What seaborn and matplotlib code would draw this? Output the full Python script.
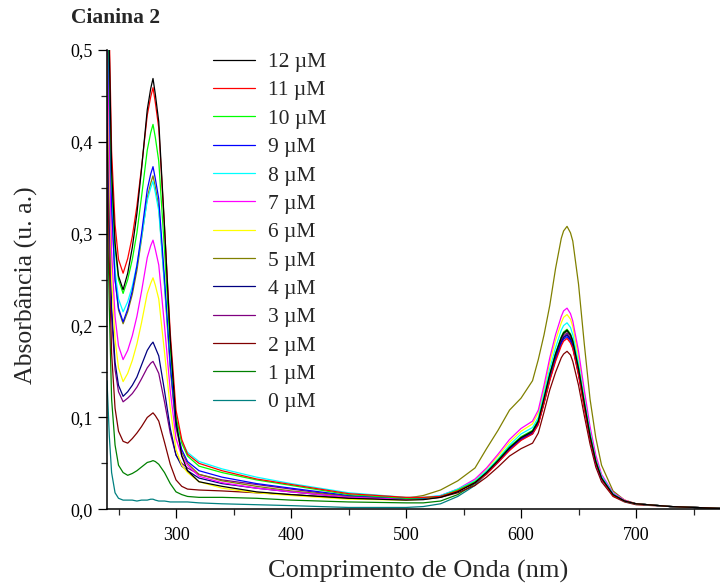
import matplotlib
matplotlib.use("Agg")
import matplotlib.pyplot as plt
import seaborn as sns
import pandas as pd
from matplotlib.ticker import MultipleLocator, FuncFormatter
from matplotlib.lines import Line2D

# wavelength grid (nm)
wl = [240, 242, 244, 247, 250, 254, 258, 262, 266, 270, 275, 278, 280, 282, 285, 290, 295, 300, 305, 310, 320, 340,
      370, 400, 450, 500, 515, 530, 545, 560,
      570, 580, 590, 600, 610, 615, 620, 625, 630, 635, 637, 640, 643, 645, 650, 655, 660, 665, 670, 680, 690, 700, 730, 773]

a12 = [0.62, 0.50, 0.37, 0.29, 0.254, 0.239, 0.257, 0.285, 0.322, 0.370, 0.435, 0.458, 0.469, 0.452, 0.422, 0.308, 0.185, 0.096, 0.058, 0.042, 0.030, 0.025,
       0.019, 0.016, 0.012, 0.010, 0.0105, 0.013, 0.019, 0.029,
       0.040, 0.053, 0.067, 0.078, 0.085, 0.096, 0.121, 0.147, 0.169, 0.187, 0.192, 0.195, 0.190, 0.183, 0.153, 0.116, 0.080, 0.052, 0.034, 0.016, 0.009, 0.006, 0.003, 0.001]
a11 = [0.65, 0.52, 0.39, 0.31, 0.272, 0.257, 0.273, 0.297, 0.330, 0.372, 0.429, 0.449, 0.459, 0.443, 0.415, 0.307, 0.192, 0.108, 0.076, 0.060, 0.050, 0.042,
       0.033, 0.027, 0.017, 0.013, 0.013, 0.014, 0.020, 0.029,
       0.038, 0.051, 0.064, 0.075, 0.082, 0.092, 0.115, 0.140, 0.161, 0.178, 0.183, 0.186, 0.181, 0.175, 0.146, 0.110, 0.077, 0.050, 0.033, 0.015, 0.009, 0.006, 0.003, 0.001]
a10 = [0.60, 0.48, 0.36, 0.285, 0.250, 0.235, 0.250, 0.272, 0.301, 0.340, 0.391, 0.410, 0.419, 0.405, 0.379, 0.282, 0.177, 0.101, 0.072, 0.058, 0.047, 0.040,
       0.032, 0.026, 0.016, 0.012, 0.0125, 0.014, 0.021, 0.030,
       0.040, 0.054, 0.068, 0.079, 0.086, 0.097, 0.121, 0.147, 0.170, 0.188, 0.193, 0.196, 0.191, 0.184, 0.154, 0.116, 0.081, 0.053, 0.034, 0.016, 0.009, 0.006, 0.003, 0.001]
a9 = [0.58, 0.45, 0.33, 0.25, 0.219, 0.204, 0.218, 0.238, 0.265, 0.300, 0.348, 0.365, 0.373, 0.360, 0.338, 0.251, 0.158, 0.091, 0.065, 0.052, 0.042, 0.035,
      0.028, 0.023, 0.015, 0.012, 0.012, 0.014, 0.020, 0.029,
      0.039, 0.051, 0.065, 0.076, 0.082, 0.093, 0.116, 0.141, 0.163, 0.180, 0.185, 0.188, 0.183, 0.176, 0.147, 0.111, 0.078, 0.050, 0.033, 0.016, 0.009, 0.006, 0.003, 0.001]
a8 = [0.58, 0.46, 0.34, 0.26, 0.229, 0.215, 0.226, 0.243, 0.266, 0.296, 0.336, 0.350, 0.357, 0.345, 0.325, 0.245, 0.159, 0.097, 0.074, 0.062, 0.052, 0.044,
      0.035, 0.028, 0.018, 0.013, 0.013, 0.015, 0.022, 0.031,
      0.042, 0.055, 0.070, 0.082, 0.089, 0.100, 0.126, 0.153, 0.176, 0.195, 0.200, 0.203, 0.198, 0.190, 0.159, 0.120, 0.084, 0.054, 0.036, 0.017, 0.009, 0.006, 0.003, 0.001]
a7 = [0.55, 0.40, 0.28, 0.21, 0.178, 0.163, 0.173, 0.189, 0.210, 0.237, 0.274, 0.287, 0.293, 0.283, 0.266, 0.200, 0.129, 0.077, 0.058, 0.048, 0.036, 0.029,
      0.023, 0.019, 0.013, 0.011, 0.012, 0.015, 0.022, 0.033,
      0.045, 0.060, 0.076, 0.088, 0.096, 0.108, 0.135, 0.165, 0.190, 0.210, 0.216, 0.219, 0.213, 0.205, 0.172, 0.130, 0.090, 0.059, 0.038, 0.018, 0.010, 0.006, 0.003, 0.001]
a6 = [0.52, 0.37, 0.25, 0.185, 0.154, 0.139, 0.148, 0.162, 0.180, 0.203, 0.235, 0.246, 0.252, 0.244, 0.229, 0.171, 0.110, 0.065, 0.048, 0.040, 0.030, 0.023,
      0.018, 0.015, 0.011, 0.010, 0.011, 0.014, 0.021, 0.032,
      0.044, 0.058, 0.073, 0.085, 0.093, 0.105, 0.131, 0.160, 0.184, 0.203, 0.209, 0.212, 0.207, 0.199, 0.166, 0.126, 0.087, 0.057, 0.037, 0.017, 0.010, 0.006, 0.003, 0.001]
a5 = [0.57, 0.45, 0.33, 0.25, 0.217, 0.202, 0.215, 0.234, 0.260, 0.294, 0.339, 0.355, 0.363, 0.351, 0.329, 0.244, 0.153, 0.088, 0.062, 0.050, 0.038, 0.031,
      0.025, 0.020, 0.014, 0.012, 0.015, 0.021, 0.031, 0.045,
      0.066, 0.086, 0.108, 0.121, 0.140, 0.163, 0.190, 0.222, 0.262, 0.295, 0.303, 0.308, 0.301, 0.292, 0.245, 0.180, 0.120, 0.078, 0.048, 0.020, 0.010, 0.006, 0.003, 0.001]
a4 = [0.50, 0.34, 0.22, 0.16, 0.135, 0.123, 0.128, 0.135, 0.144, 0.157, 0.173, 0.179, 0.182, 0.176, 0.167, 0.129, 0.088, 0.059, 0.047, 0.042, 0.034, 0.028,
      0.023, 0.019, 0.013, 0.012, 0.012, 0.014, 0.020, 0.029,
      0.039, 0.052, 0.066, 0.076, 0.083, 0.094, 0.117, 0.143, 0.164, 0.182, 0.187, 0.190, 0.185, 0.178, 0.149, 0.113, 0.078, 0.051, 0.033, 0.016, 0.009, 0.006, 0.003, 0.001]
a3 = [0.48, 0.32, 0.21, 0.152, 0.128, 0.117, 0.121, 0.126, 0.133, 0.142, 0.154, 0.159, 0.161, 0.156, 0.148, 0.117, 0.083, 0.059, 0.050, 0.045, 0.038, 0.032,
      0.027, 0.022, 0.014, 0.012, 0.012, 0.014, 0.020, 0.029,
      0.040, 0.052, 0.066, 0.077, 0.084, 0.095, 0.119, 0.145, 0.166, 0.184, 0.189, 0.192, 0.187, 0.180, 0.150, 0.114, 0.079, 0.051, 0.034, 0.016, 0.009, 0.006, 0.003, 0.001]
a2 = [0.42, 0.27, 0.17, 0.11, 0.085, 0.074, 0.072, 0.077, 0.083, 0.090, 0.100, 0.103, 0.105, 0.102, 0.096, 0.073, 0.049, 0.032, 0.025, 0.022, 0.021, 0.020,
      0.018, 0.016, 0.012, 0.011, 0.011, 0.013, 0.018, 0.026,
      0.035, 0.046, 0.058, 0.066, 0.072, 0.083, 0.106, 0.130, 0.149, 0.165, 0.169, 0.172, 0.168, 0.161, 0.135, 0.102, 0.071, 0.046, 0.030, 0.014, 0.008, 0.005, 0.003, 0.001]
a1 = [0.35, 0.22, 0.12, 0.07, 0.048, 0.040, 0.037, 0.039, 0.042, 0.046, 0.051, 0.052, 0.053, 0.052, 0.049, 0.040, 0.028, 0.019, 0.016, 0.014, 0.013, 0.013,
      0.012, 0.010, 0.008, 0.007, 0.007, 0.009, 0.016, 0.028,
      0.040, 0.053, 0.067, 0.078, 0.085, 0.096, 0.120, 0.146, 0.168, 0.186, 0.191, 0.194, 0.189, 0.182, 0.152, 0.115, 0.080, 0.052, 0.034, 0.016, 0.009, 0.006, 0.003, 0.001]
a0 = [0.14, 0.08, 0.04, 0.018, 0.012, 0.010, 0.010, 0.010, 0.009, 0.010, 0.010, 0.011, 0.011, 0.010, 0.009, 0.009, 0.008, 0.008, 0.008, 0.008, 0.007, 0.006,
      0.005, 0.004, 0.002, 0.002, 0.003, 0.006, 0.014, 0.026,
      0.039, 0.052, 0.066, 0.076, 0.083, 0.094, 0.117, 0.143, 0.164, 0.182, 0.187, 0.190, 0.185, 0.178, 0.149, 0.113, 0.078, 0.051, 0.033, 0.016, 0.009, 0.006, 0.003, 0.001]

labels = ["12 \u00b5M", "11 \u00b5M", "10 \u00b5M", "9 \u00b5M", "8 \u00b5M", "7 \u00b5M", "6 \u00b5M",
          "5 \u00b5M", "4 \u00b5M", "3 \u00b5M", "2 \u00b5M", "1 \u00b5M", "0 \u00b5M"]
series = [a12, a11, a10, a9, a8, a7, a6, a5, a4, a3, a2, a1, a0]
colors = ["#000000", "#FF0000", "#00FF00", "#0000FF", "#00FFFF", "#FF00FF", "#FFFF00",
          "#808000", "#000080", "#800080", "#800000", "#008000", "#008080"]

rows = []
for lab, vals in zip(labels, series):
    for w, v in zip(wl, vals):
        rows.append({"wl": w, "abs": v, "conc": lab})
df = pd.DataFrame(rows)

sns.set_style("ticks")
plt.rcParams["font.family"] = ["Liberation Serif", "DejaVu Serif"]

fig = plt.figure(figsize=(7.2, 5.87), dpi=100)
ax = fig.add_axes([107 / 720, 1 - 509.3 / 587, 1 - 107 / 720, (509.3 - 50) / 587])

draw_order = labels[::-1]
pal = dict(zip(labels, colors))
sns.lineplot(data=df, x="wl", y="abs", hue="conc", hue_order=draw_order, palette=pal,
             estimator=None, sort=False, linewidth=0.9, legend=False, ax=ax)

ax.set_xlim(240, 773)
ax.set_ylim(0, 0.5)
ax.xaxis.set_major_locator(MultipleLocator(100))
ax.xaxis.set_minor_locator(MultipleLocator(50))
ax.yaxis.set_major_locator(MultipleLocator(0.1))
ax.yaxis.set_minor_locator(MultipleLocator(0.05))
ax.yaxis.set_major_formatter(FuncFormatter(lambda v, p: f"{v:.1f}".replace(".", ",")))
ax.xaxis.set_major_formatter(FuncFormatter(lambda v, p: f"{v:.0f}"))
ax.tick_params(which="major", direction="out", length=6.5, width=0.9, labelsize=13, colors="black", pad=4)
ax.tick_params(which="minor", direction="out", length=4, width=0.9)
ax.tick_params(axis="x", which="major", pad=6)
for s in ["top", "right"]:
    ax.spines[s].set_visible(False)
for s in ["left", "bottom"]:
    ax.spines[s].set_linewidth(1.1)
    ax.spines[s].set_color("black")
ax.set_xlabel("")
ax.set_ylabel("")

handles = [Line2D([0], [0], color=c, lw=0.9) for c in colors]
leg = ax.legend(handles, labels, loc="upper left", bbox_to_anchor=(213 / 720, 1 - 52 / 587),
                bbox_transform=fig.transFigure, frameon=False, fontsize=15.5,
                handlelength=1.95, handletextpad=0.6, labelspacing=0.385, borderpad=0, borderaxespad=0)

fig.text(71 / 720, 1 - 18 / 587, "Cianina 2", fontsize=15.5, fontweight="bold", ha="left", va="center")
fig.text(418 / 720, 1 - 571 / 587, "Comprimento de Onda (nm)", fontsize=19, ha="center", va="center")
fig.text(26 / 720, 1 - 285 / 587, "Absorb\u00e2ncia (u. a.)", fontsize=18.5, ha="center", va="center", rotation=90)

fig.savefig("out.png", dpi=100)
